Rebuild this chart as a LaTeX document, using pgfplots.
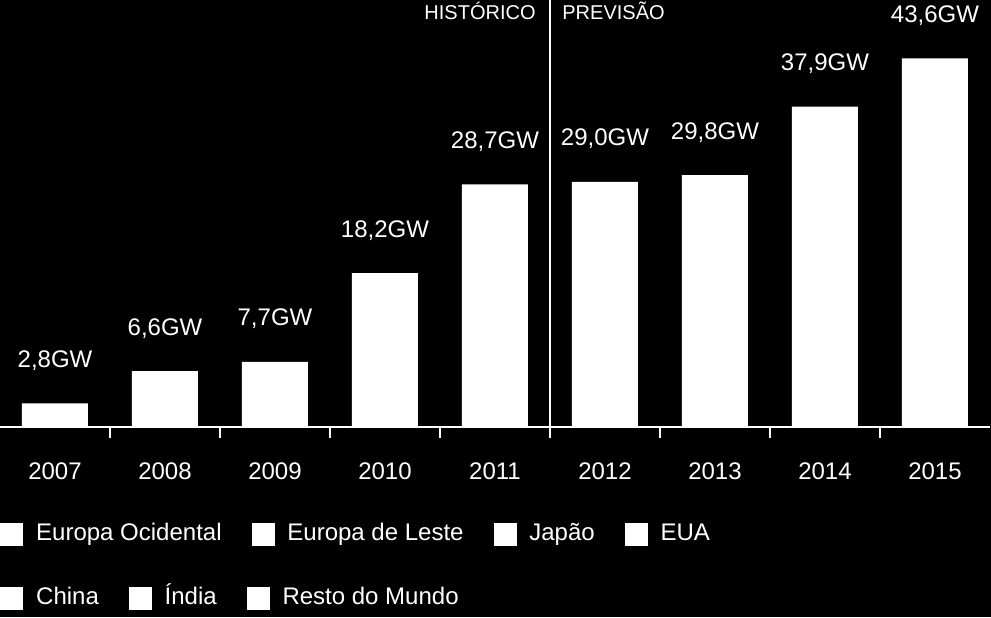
\documentclass[border=0pt]{standalone}
\usepackage{pgfplots}
\pgfplotsset{compat=1.18}
\usepackage{fontspec}
\setmainfont{Liberation Sans}
\pgfplotsset{
  sqleg/.style={legend image code/.code={\fill[white] (0pt,-5.5pt) rectangle (11pt,5.5pt);}},
  myleg/.style={legend columns=-1,
    legend style={draw=none, fill=none, text=white, inner sep=0pt, anchor=west,
      nodes={inner sep=0pt, text=white, text height=8.6pt, text depth=2.5pt},
      /tikz/every odd column/.append style={column sep=6.5pt},
      /tikz/every even column/.append style={column sep=15pt}}},
}
\begin{document}
\begin{tikzpicture}[font=\fontsize{12}{14}\selectfont]
\useasboundingbox (0,0) rectangle (495.5pt,-308.5pt);
\fill[black] (0,0) rectangle (495.5pt,-308.5pt);
\begin{axis}[at={(0,0)}, anchor=north west, scale only axis, width=495pt, height=213.5pt,
  xmin=-0.5, xmax=8.5, ymin=0, ymax=50.5, clip=false,
  axis x line=bottom, axis y line=none, axis line style={white, line width=1pt, -},
  xtick align=outside,
  xtick={0,1,2,3,4,5,6,7,8},
  xticklabels={2007,2008,2009,2010,2011,2012,2013,2014,2015},
  major tick length=0pt,
  extra x ticks={0.5,1.5,2.5,3.5,4.5,5.5,6.5,7.5}, extra x tick labels={},
  extra x tick style={major tick length=5.5pt, tick style={white, line width=1pt}},
  xticklabel style={text=white, anchor=base, yshift=-26pt},
  /pgf/number format/assume math mode=true,
  myleg, legend style={at={(0,-0.2506)}}, sqleg,
]
\addplot[ybar, bar width=33pt, fill=white, draw=none, forget plot,
  nodes near coords={\pgfmathprintnumber[fixed, fixed zerofill, precision=1, use comma]{\pgfplotspointmeta}GW},
  every node near coord/.append style={text=white, anchor=base, inner sep=0pt, yshift=18pt}]
  coordinates {(0,2.8) (1,6.6) (2,7.7) (3,18.2) (4,28.7) (5,29.0) (6,29.8) (7,37.9) (8,43.6)};
\draw[white, line width=1pt] (axis cs:4.5,0) -- (axis cs:4.5,50.5);
\node[anchor=base east, text=white, inner sep=0pt, font=\fontsize{10}{12}\selectfont, xshift=-7pt] at (axis cs:4.5,48.25) {HISTÓRICO};
\node[anchor=base west, text=white, inner sep=0pt, font=\fontsize{10}{12}\selectfont, xshift=6pt] at (axis cs:4.5,48.25) {PREVISÃO};
\addlegendimage{sqleg}\addlegendentry{Europa Ocidental}
\addlegendimage{sqleg}\addlegendentry{Europa de Leste}
\addlegendimage{sqleg}\addlegendentry{Japão}
\addlegendimage{sqleg}\addlegendentry{EUA}
\end{axis}
\begin{axis}[at={(0,0)}, anchor=north west, scale only axis, width=495pt, height=213.5pt,
  xmin=0, xmax=1, ymin=0, ymax=1, hide axis,
  myleg, legend style={at={(0,-0.4016)}}, sqleg]
\addlegendimage{sqleg}\addlegendentry{China}
\addlegendimage{sqleg}\addlegendentry{Índia}
\addlegendimage{sqleg}\addlegendentry{Resto do Mundo}
\end{axis}
\end{tikzpicture}
\end{document}
